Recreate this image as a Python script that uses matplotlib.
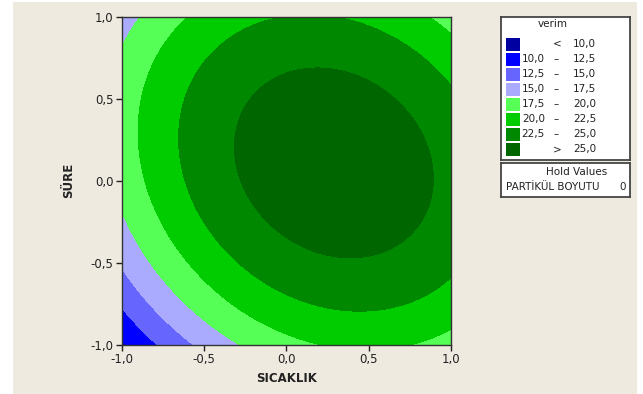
import numpy as np
import matplotlib
matplotlib.use('Agg')
from matplotlib import pyplot as plt
from matplotlib.patches import Rectangle
from matplotlib.ticker import FuncFormatter, MultipleLocator

# fitted response surface for verim (coded units), PARTİKÜL BOYUTU held at 0
b0 = 26.21
b_sicaklik = 3.01
b_sure = 1.66
b_sicaklik2 = -4.88
b_sure2 = -5.34
b_sicaklik_sure = -1.70

levels = [10.0, 12.5, 15.0, 17.5, 20.0, 22.5, 25.0]
colors = ['#0000A0', '#0000FF', '#6666FF', '#AAAAFF', '#55FF55', '#00CC00', '#008800', '#006600']
ticks = [-1.0, -0.5, 0.0, 0.5, 1.0]


def tr(v):
    return f'{v:.1f}'.replace('.', ',')


W, H = 643, 394
fig = plt.figure(figsize=(W / 100, H / 100), dpi=100)
fig.patch.set_facecolor('white')
fig.patches.append(Rectangle((13 / W, 0), (637 - 13) / W, 1 - 2 / H,
                             transform=fig.transFigure, facecolor='#EEEAE0',
                             edgecolor='none', zorder=-10))

ax = fig.add_axes([122 / W, 1 - 345 / H, 328.7 / W, 328.3 / H])
g = np.linspace(-1, 1, 401)
X, Y = np.meshgrid(g, g)
Z = (b0 + b_sicaklik * X + b_sure * Y + b_sicaklik2 * X ** 2
     + b_sure2 * Y ** 2 + b_sicaklik_sure * X * Y)
ax.contourf(X, Y, Z, levels=[-1e9] + levels + [1e9], colors=colors)
ax.set_xlim(-1, 1)
ax.set_ylim(-1, 1)
ax.xaxis.set_major_locator(MultipleLocator(0.5))
ax.yaxis.set_major_locator(MultipleLocator(0.5))
ax.xaxis.set_major_formatter(FuncFormatter(lambda v, p: tr(v)))
ax.yaxis.set_major_formatter(FuncFormatter(lambda v, p: tr(v)))
ax.tick_params(direction='out', length=4, width=1, labelsize=8.5, pad=2,
               colors='#222222', labelcolor='#222222')
for s in ax.spines.values():
    s.set_linewidth(1)
    s.set_color('#333333')
ax.set_xlabel('SICAKLIK', fontsize=8.5, fontweight='bold', color='#222222')
ax.set_ylabel('SÜRE', fontsize=8.5, fontweight='bold', color='#222222')
ax.xaxis.label.set_va('center')
ax.yaxis.label.set_va('center')
ax.xaxis.set_label_coords(0.5, -(378 - 345) / 328.3)
ax.yaxis.set_label_coords((69 - 122) / 328.7, 0.5)

# legend box
la = fig.add_axes([501 / W, 1 - 160 / H, 129 / W, 143 / H])
la.set_xlim(0, 129)
la.set_ylim(143, 0)
la.set_xticks([])
la.set_yticks([])
for s in la.spines.values():
    s.set_linewidth(1.3)
    s.set_color('#444444')
la.text(52, 7, 'verim', fontsize=7.5, ha='center', va='center', color='#222222')
for i, c in enumerate(colors):
    yc = 27 + 15 * i
    la.add_patch(Rectangle((5, yc - 6.5), 14, 13, facecolor=c, edgecolor='none'))
    if i == 0:
        la.text(56, yc, '<', fontsize=7.5, ha='center', va='center', color='#222222')
        la.text(95, yc, tr(levels[0]), fontsize=7.5, ha='right', va='center', color='#222222')
    elif i == len(colors) - 1:
        la.text(56, yc, '>', fontsize=7.5, ha='center', va='center', color='#222222')
        la.text(95, yc, tr(levels[-1]), fontsize=7.5, ha='right', va='center', color='#222222')
    else:
        la.text(44, yc, tr(levels[i - 1]), fontsize=7.5, ha='right', va='center', color='#222222')
        la.text(55, yc, '–', fontsize=7.5, ha='center', va='center', color='#222222')
        la.text(95, yc, tr(levels[i]), fontsize=7.5, ha='right', va='center', color='#222222')

# hold values box
hb = fig.add_axes([501 / W, 1 - 197 / H, 129 / W, 34 / H])
hb.set_xlim(0, 129)
hb.set_ylim(34, 0)
hb.set_xticks([])
hb.set_yticks([])
for s in hb.spines.values():
    s.set_linewidth(1.3)
    s.set_color('#444444')
hb.text(76, 9, 'Hold Values', fontsize=7.5, ha='center', va='center', color='#222222')
hb.text(5, 24, 'PARTİKÜL BOYUTU', fontsize=7.5, ha='left', va='center', color='#222222')
hb.text(125, 24, '0', fontsize=7.5, ha='right', va='center', color='#222222')

fig.savefig('out.png', dpi=100)
